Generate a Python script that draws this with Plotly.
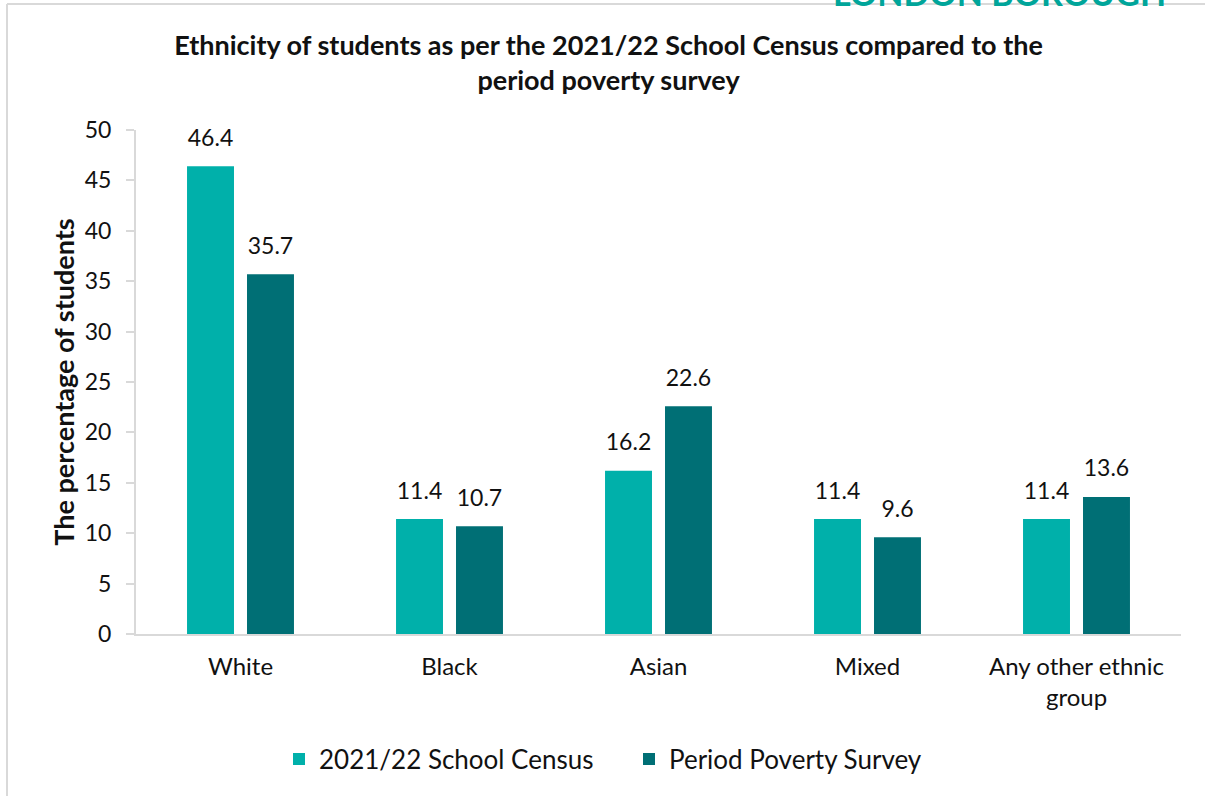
import plotly.graph_objects as go

categories = ["White", "Black", "Asian", "Mixed", "Any other ethnic<br>group"]
census_2122 = [46.4, 11.4, 16.2, 11.4, 11.4]
survey = [35.7, 10.7, 22.6, 9.6, 13.6]
series_names = ["2021/22 School Census", "Period Poverty Survey"]
y_ticks = [0, 5, 10, 15, 20, 25, 30, 35, 40, 45, 50]

FONT = "Lato, 'Open Sans', sans-serif"
C_LIGHT = "#00B0AA"
C_DARK = "#006F75"
INK = "#111111"
W, H = 1205, 796
L, R, T, B = 136, 24, 130, 162

fig = go.Figure()
for i, (name, vals, col) in enumerate([(series_names[0], census_2122, C_LIGHT),
                                       (series_names[1], survey, C_DARK)]):
    fig.add_trace(go.Bar(
        x=categories, y=vals, name=name, marker=dict(color=col, line_width=0),
        offsetgroup=str(i),
    ))
    # value labels sit a little above each bar top
    fig.add_trace(go.Scatter(
        x=categories, y=vals, mode="markers+text", offsetgroup=str(i),
        marker=dict(size=22, opacity=0), showlegend=False, hoverinfo="skip",
        text=[f"{v:.1f}" for v in vals], textposition="top center",
        textfont=dict(family=FONT, size=23, color=INK), cliponaxis=False,
    ))

pw = W - L - R
ph = H - T - B

def px(x):
    return (x - L) / pw

def py(y):
    return (H - B - y) / ph

fig.update_layout(
    width=W, height=H,
    margin=dict(l=L, r=R, t=T, b=B),
    paper_bgcolor="white", plot_bgcolor="white",
    barmode="group", bargap=0.426, bargroupgap=0.217,
    scattermode="group", scattergap=0.426,
    font=dict(family=FONT, color=INK),
    title=dict(
        text="Ethnicity of students as per the 2021/22 School Census compared to the<br>period poverty survey",
        x=0.505, xanchor="center", y=1 - 55 / H, yanchor="middle",
        font=dict(family=FONT, size=27, color=INK, weight="bold"),
    ),
    legend=dict(
        orientation="h", x=px(279), xanchor="left", y=py(759), yanchor="middle",
        font=dict(family=FONT, size=26, color=INK),
        itemwidth=30, tracegroupgap=0, traceorder="normal",
        entrywidth=305, entrywidthmode="pixels",
    ),
    xaxis=dict(
        showgrid=False, showline=True, linecolor="#D9D9D9", linewidth=2,
        ticks="", ticklabelstandoff=10,
        tickfont=dict(family=FONT, size=24, color=INK),
    ),
    yaxis=dict(
        range=[0, 50], tickvals=y_ticks, showgrid=False, zeroline=False,
        showline=True, linecolor="#D9D9D9", linewidth=2,
        ticks="outside", ticklen=8, tickcolor="#D9D9D9", tickwidth=2,
        ticklabelstandoff=10,
        tickfont=dict(family=FONT, size=23, color=INK),
        title=dict(text="The percentage of students", standoff=2,
                   font=dict(family=FONT, size=27, color=INK, weight="bold")),
    ),
    shapes=[
        dict(type="line", xref="paper", yref="paper",
             x0=px(7), x1=px(7), y0=py(4), y1=py(H + 5),
             line=dict(color="#D9D9D9", width=2)),
        dict(type="line", xref="paper", yref="paper",
             x0=px(7), x1=px(W + 5), y0=py(4), y1=py(4),
             line=dict(color="#D9D9D9", width=2)),
    ],
    annotations=[
        dict(text="LONDON BOROUGH", xref="paper", yref="paper",
             x=px(1168), xanchor="right", y=py(-8), yanchor="middle",
             showarrow=False,
             font=dict(family=FONT, size=34, color="#00A59A", weight="bold")),
    ],
)

fig.write_html("out.html")
